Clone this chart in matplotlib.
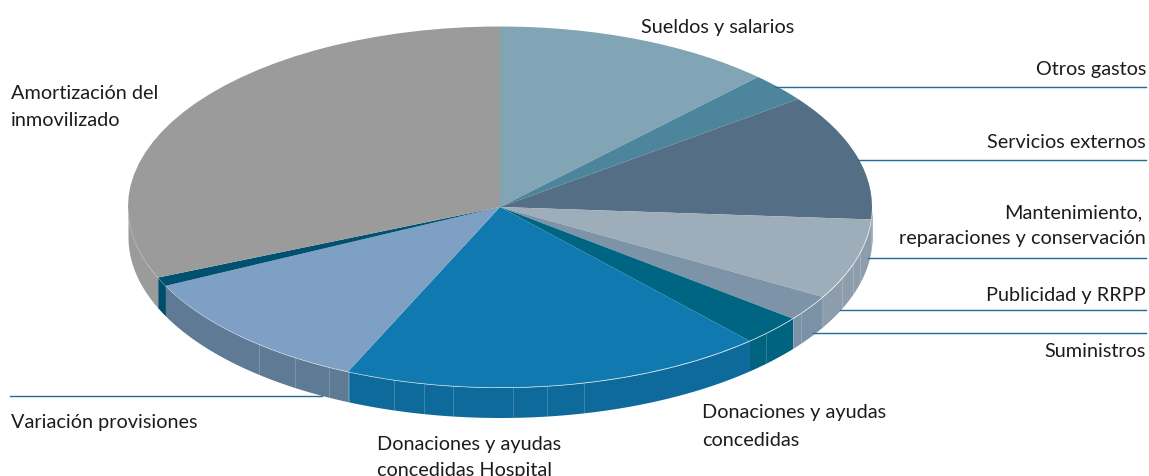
import numpy as np
import matplotlib
matplotlib.use("Agg")
import matplotlib.pyplot as plt

categories = ["Sueldos y salarios", "Otros gastos", "Servicios externos",
              "Mantenimiento, reparaciones y conservación", "Publicidad y RRPP",
              "Suministros", "Donaciones y ayudas concedidas",
              "Donaciones y ayudas concedidas Hospital", "Variación provisiones",
              "Amortización del inmovilizado"]
values = [12.2, 2.6, 11.3, 7.2, 2.3, 2.7, 18.4, 11.1, 0.8, 31.4]

topColors = ["#81a5b5", "#4c859c", "#546e85", "#9eadba", "#7d94a8",
             "#006583", "#0f79b0", "#7da0c4", "#00506f", "#9b9b9b"]
wallColors = ["#81a5b5", "#4c859c", "#546e85", "#8d9dab", "#7a91a6",
              "#006380", "#0f6a9c", "#5f7a95", "#004d6b", "#9b9b9b"]

W, H = 1149, 477
cx, cy, rx, ry, depth = 500, 208, 372, 180.5, 30

plt.rcParams["font.family"] = ["Lato", "DejaVu Sans"]
fig = plt.figure(figsize=(W / 100, H / 100), dpi=100)

ax = fig.add_axes([0, 0, 1, 1])
d = depth / ry

# side wall first, only the front half of the disc shows
edges = np.cumsum([0] + values) / sum(values) * 360
for i in range(len(values)):
    a = max(edges[i], 90)
    b = min(edges[i + 1], 270)
    if a >= b:
        continue
    t = np.radians(np.linspace(a, b, 80))
    ax.fill_between(np.sin(t), np.cos(t), np.cos(t) - d, color=wallColors[i], lw=0)

ax.pie(values, colors=topColors, startangle=90, counterclock=False, radius=1,
       wedgeprops={"linewidth": 0})
ax.set_aspect("auto")
ax.set_xlim(-cx / rx, (W - cx) / rx)
ax.set_ylim((cy - H) / ry, cy / ry)

# thin light facets on the wall
facetX = [259, 295, 329, 349, 394, 424, 453, 513, 547, 584, 766, 793, 801, 822, 842, 853, 860]
for px in facetX:
    x = (px - cx) / rx
    y = -np.sqrt(1 - x ** 2)
    ax.plot([x, x], [y, y - d], color="white", lw=0.6, alpha=0.22, solid_capstyle="butt")

t = np.radians(np.linspace(138, 270, 300))
ax.plot(np.sin(t), np.cos(t), color="white", lw=0.5, alpha=0.25)

# labels and leader lines in pixel coordinates
over = fig.add_axes([0, 0, 1, 1])
over.set_xlim(0, W)
over.set_ylim(H, 0)
over.axis("off")

lineColor = "#1f6f94"
for y, x0, x1 in [(87.5, 775, 1146), (160.5, 858, 1146), (258.5, 868, 1146),
                  (310.5, 840, 1146), (333.5, 813, 1146), (396.5, 10, 322)]:
    over.plot([x0, x1], [y, y], color=lineColor, lw=1)

textColor = "#1c1c1c"
labels = [("Sueldos y salarios", 641, 33, "left"),
          ("Otros gastos", 1146, 75, "right"),
          ("Servicios externos", 1146, 148, "right"),
          ("Mantenimiento,", 1142, 218, "right"),
          ("reparaciones y conservación", 1146, 244, "right"),
          ("Publicidad y RRPP", 1146, 301, "right"),
          ("Suministros", 1146, 357, "right"),
          ("Donaciones y ayudas", 702, 418, "left"),
          ("concedidas", 702, 446, "left"),
          ("Donaciones y ayudas", 377, 450, "left"),
          ("concedidas Hospital", 377, 476, "left"),
          ("Variación provisiones", 11, 428, "left"),
          ("Amortización del", 11, 99, "left"),
          ("inmovilizado", 11, 126, "left")]
for s, x, y, ha in labels:
    over.text(x, y, s, ha=ha, va="baseline", fontsize=14.3, color=textColor, clip_on=True)

fig.savefig("out.png", dpi=100)
